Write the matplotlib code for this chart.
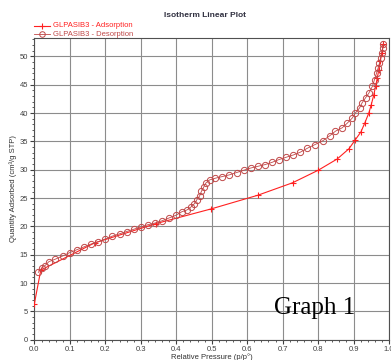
import numpy as np
import matplotlib.pyplot as plt
from matplotlib.ticker import MultipleLocator

# adsorption branch (p/p0, quantity)
p_ads = [0.0, 0.018, 0.17, 0.343, 0.499, 0.63, 0.728, 0.80, 0.854, 0.887, 0.904, 0.921,
         0.932, 0.943, 0.95, 0.957, 0.962, 0.967, 0.971, 0.975, 0.98, 0.984]
q_ads = [6.4, 12.3, 17.1, 20.5, 23.1, 25.5, 27.7, 29.9, 31.9, 33.7, 35.2, 36.7,
         38.3, 40.0, 41.5, 43.2, 44.7, 46.2, 47.6, 49.1, 50.6, 52.1]

# desorption branch
p_des = [0.984, 0.982, 0.979, 0.976, 0.973, 0.969, 0.965, 0.959, 0.953, 0.943, 0.934,
         0.924, 0.917, 0.905, 0.896, 0.882, 0.868, 0.849, 0.833, 0.813, 0.79, 0.77,
         0.75, 0.73, 0.71, 0.69, 0.67, 0.65, 0.63, 0.61, 0.59, 0.57, 0.55, 0.53, 0.51,
         0.494, 0.484, 0.477, 0.471, 0.466, 0.458, 0.451, 0.441, 0.43, 0.416,
         0.40, 0.38, 0.36, 0.34, 0.32, 0.30, 0.28, 0.26, 0.24, 0.22, 0.20, 0.18,
         0.16, 0.14, 0.12, 0.10, 0.08, 0.058, 0.041, 0.03, 0.02, 0.011]
q_des = [52.2, 51.5, 50.6, 49.7, 48.8, 47.9, 47.1, 45.9, 44.7, 43.5, 42.7,
         41.8, 40.9, 40.0, 39.1, 38.2, 37.4, 36.8, 36.0, 35.1, 34.4, 33.8,
         33.1, 32.6, 32.2, 31.8, 31.3, 30.9, 30.6, 30.3, 29.9, 29.5, 29.1, 28.8, 28.5,
         28.2, 27.7, 26.9, 26.2, 25.4, 24.7, 24.0, 23.4, 22.9, 22.6,
         22.0, 21.5, 21.0, 20.6, 20.3, 19.9, 19.5, 19.1, 18.7, 18.3, 17.8, 17.3,
         16.9, 16.4, 15.9, 15.4, 14.8, 14.2, 13.8, 13.1, 12.6, 11.9]

plt.rcParams['font.family'] = ['Liberation Sans', 'DejaVu Sans']

fig = plt.figure(figsize=(3.91, 3.6), dpi=100)
ax = fig.add_axes([0.088, 0.056, 0.907, 0.838])

red = '#ff2020'
dred = '#c04848'
ax.plot(p_ads, q_ads, color=red, lw=0.8, marker='+', ms=5, mew=0.8, zorder=3)
ax.plot(p_des, q_des, color=dred, lw=0.6, marker='o', ms=4.5, mfc='none', mew=0.7, zorder=3)

ax.set_xlim(0, 1.0)
ax.set_ylim(0, 53.2)
ax.xaxis.set_major_locator(MultipleLocator(0.1))
ax.xaxis.set_minor_locator(MultipleLocator(0.02))
ax.yaxis.set_major_locator(MultipleLocator(5))
ax.yaxis.set_minor_locator(MultipleLocator(1))
ax.set_xticklabels([f'{v:.1f}' for v in ax.get_xticks()])
ax.tick_params(which='both', direction='out', labelsize=5.5, colors='#404040', pad=1.5)
ax.tick_params(which='major', length=3)
ax.tick_params(which='minor', length=1.5)
ax.grid(True, which='major', color='#8c8c8c', lw=0.8)
for s in ax.spines.values():
    s.set_color('#505050')
    s.set_linewidth(0.8)

ax.set_xlabel('Relative Pressure (p/p°)', fontsize=5.5, labelpad=0.5, color='#303030')
ax.set_ylabel('Quantity Adsorbed (cm³/g STP)', fontsize=5.5, labelpad=2, color='#303030')
fig.text(0.525, 0.958, 'Isotherm Linear Plot', ha='center', va='center',
         fontsize=6, fontweight='bold', color='#303040')

# legend drawn above the axes, marker in the middle of each sample line
fig.lines.append(plt.Line2D([0.088, 0.108, 0.128], [0.928, 0.928, 0.928], transform=fig.transFigure,
                            color=red, lw=0.8, marker='+', ms=5, markevery=[1], mew=0.8))
fig.lines.append(plt.Line2D([0.088, 0.108, 0.128], [0.905, 0.905, 0.905], transform=fig.transFigure,
                            color=dred, lw=0.6, marker='o', ms=4, markevery=[1], mfc='none', mew=0.7))
fig.text(0.135, 0.928, 'GLPASIB3 - Adsorption', fontsize=5.5, color=red, va='center')
fig.text(0.135, 0.905, 'GLPASIB3 - Desorption', fontsize=5.5, color=dred, va='center')

ax.text(0.79, 5.6, 'Graph 1', fontsize=18, family=['Liberation Serif', 'DejaVu Serif'],
        ha='center', va='center', color='black')

fig.savefig('out.png', dpi=100)
